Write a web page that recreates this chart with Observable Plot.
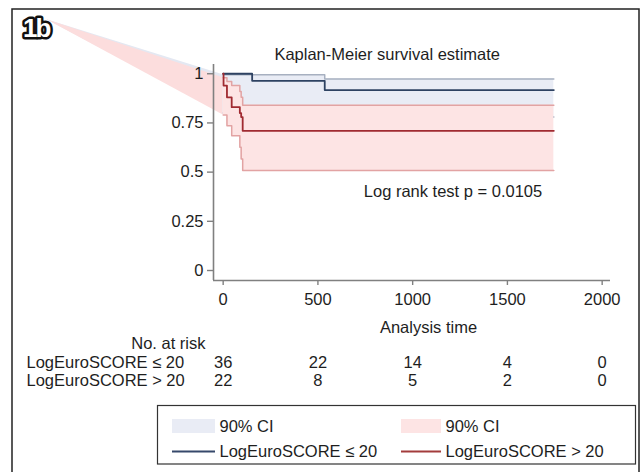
<!DOCTYPE html>
<html><head><meta charset="utf-8">
<script src="https://cdn.jsdelivr.net/npm/d3@7"></script>
<script src="https://cdn.jsdelivr.net/npm/@observablehq/plot@0.6"></script>
<style>html,body{margin:0;padding:0;background:#fff;overflow:hidden}</style>
</head><body><div id="chart"></div>
<script>
// ---- data ----
const groupLabels = ["LogEuroSCORE ≤ 20", "LogEuroSCORE > 20"];
// LogEuroSCORE <= 20
const lowTime = [0, 153, 536, 1745];
const lowKM   = [1, 0.964, 0.917, 0.917];
const lowHi   = [0.995, 0.995, 0.973, 0.973];
const lowLo   = [0.80, 0.80, 0.78, 0.78];
// LogEuroSCORE > 20
const highTime = [0, 2, 20, 45, 88, 95, 103, 1745];
const highKM   = [1, 0.94, 0.88, 0.83, 0.80, 0.78, 0.71, 0.71];
const highHi   = [0.98, 0.98, 0.96, 0.94, 0.91, 0.88, 0.84, 0.84];
const highLo   = [0.79, 0.79, 0.736, 0.685, 0.626, 0.567, 0.508, 0.508];
// stray band vertex drawn outside the plot region
const apexTime = -930;
const apexValue = 1.275;
// number at risk table
const riskTimes = [0, 500, 1000, 1500, 2000];
const riskLow  = [36, 22, 14, 4, 0];
const riskHigh = [22, 8, 5, 2, 0];
const xTicks = [0, 500, 1000, 1500, 2000];
const yTicks = [0, 0.25, 0.5, 0.75, 1];
const xDomain = [-51, 2044];
const yDomain = [-0.0508, 1.047];
const titleText = "Kaplan-Meier survival estimate";
const testText = "Log rank test p = 0.0105";
const xLabel = "Analysis time";
const riskTitle = "No. at risk";
const ciLabel = "90% CI";

// ---- build tables ----
const lowData = lowTime.map((t, i) => ({t, km: lowKM[i], hi: lowHi[i], lo: lowLo[i]}));
const highData = highTime.map((t, i) => ({t, km: highKM[i], hi: highHi[i], lo: highLo[i]}));
const wedgeLow = [{t: apexTime, hi: apexValue, lo: apexValue}, lowData[0]];
const wedgeHigh = [{t: apexTime, hi: apexValue, lo: apexValue}, highData[0]];
const riskRowLow = riskTimes.map((t, i) => ({t, n: riskLow[i]}));
const riskRowHigh = riskTimes.map((t, i) => ({t, n: riskHigh[i]}));

const FONT = "'Liberation Sans', Arial, Helvetica, sans-serif";
const FS = 16.5;
const C = {
  blueFill: "#e9ecf5", pinkFill: "#fde4e4",
  blueWedge: "#e4e8f2", pinkWedge: "#fcdddd",
  blueCI: "#a7b0c0", redCI: "#e2a3a3",
  blueKM: "#2e4262", redKM: "#a02a31",
  axis: "#808080", text: "#1e1e1e"
};
const T = {fontSize: FS, fill: C.text, lineAnchor: "middle"};

const W = 641, H = 472;
const plot = Plot.plot({
  width: W, height: H,
  marginLeft: 213, marginRight: 31, marginTop: 64, marginBottom: 192,
  x: {domain: xDomain},
  y: {domain: yDomain},
  style: {fontFamily: FONT, fontSize: FS + "px", background: "white", color: C.text, overflow: "visible"},
  marks: [
    Plot.areaY(wedgeLow, {x: "t", y1: "lo", y2: "hi", fill: C.blueWedge, curve: "linear"}),
    Plot.areaY(wedgeHigh, {x: "t", y1: "lo", y2: "hi", fill: C.pinkWedge, curve: "linear"}),
    Plot.areaY(lowData, {x: "t", y1: "lo", y2: "hi", fill: C.blueFill, curve: "step-after"}),
    Plot.lineY(lowData, {x: "t", y: "hi", stroke: C.blueCI, strokeWidth: 1.5, curve: "step-after"}),
    Plot.lineY(lowData, {x: "t", y: "lo", stroke: C.blueCI, strokeWidth: 1.5, curve: "step-after"}),
    Plot.areaY(highData, {x: "t", y1: "lo", y2: "hi", fill: C.pinkFill, curve: "step-after"}),
    Plot.lineY(highData, {x: "t", y: "hi", stroke: C.redCI, strokeWidth: 1.5, curve: "step-after"}),
    Plot.lineY(highData, {x: "t", y: "lo", stroke: C.redCI, strokeWidth: 1.5, curve: "step-after"}),
    Plot.lineY(lowData, {x: "t", y: "km", stroke: C.blueKM, strokeWidth: 1.8, curve: "step-after"}),
    Plot.lineY(highData, {x: "t", y: "km", stroke: C.redKM, strokeWidth: 1.8, curve: "step-after"}),
    Plot.ruleX([xDomain[0]], {y1: yDomain[0], y2: yDomain[1], stroke: C.axis, strokeWidth: 1.6}),
    Plot.ruleY([yDomain[0]], {x1: xDomain[0], x2: xDomain[1], stroke: C.axis, strokeWidth: 1.6}),
    Plot.axisY(yTicks, {anchor: "left", tickSize: 6, tickPadding: 4, tickFormat: d => String(d),
      stroke: C.axis, strokeWidth: 1.4, fill: C.text, label: null, fontSize: FS}),
    Plot.axisX(xTicks, {anchor: "bottom", tickSize: 5, tickPadding: 8, tickFormat: d => String(d),
      stroke: C.axis, strokeWidth: 1.4, fill: C.text, label: null, fontSize: FS}),
    Plot.text([titleText], {...T, frameAnchor: "top-left", dx: 173.7, dy: -9.3, textAnchor: "middle"}),
    Plot.text([testText], {...T, frameAnchor: "top-left", dx: 150.3, dy: 127.7, textAnchor: "start"}),
    Plot.text([xLabel], {...T, frameAnchor: "bottom-left", dx: 215, dy: 47.7, textAnchor: "middle"}),
    Plot.text([riskTitle], {...T, frameAnchor: "bottom-left", dx: -8, dy: 63.7, textAnchor: "end"}),
    Plot.text([groupLabels[0]], {...T, frameAnchor: "bottom-left", dx: -187, dy: 82.7, textAnchor: "start"}),
    Plot.text([groupLabels[1]], {...T, frameAnchor: "bottom-left", dx: -187, dy: 100.7, textAnchor: "start"}),
    Plot.text(riskRowLow, {...T, x: "t", text: "n", frameAnchor: "bottom", dy: 82.7}),
    Plot.text(riskRowHigh, {...T, x: "t", text: "n", frameAnchor: "bottom", dy: 100.7})
  ]
});

// ---- decorations: figure border, panel label, legend ----
const svg = d3.select(plot);
svg.append("rect").attr("x", 12).attr("y", 9).attr("width", 627).attr("height", 480)
  .attr("fill", "none").attr("stroke", "#222").attr("stroke-width", 1.5);
svg.append("text").attr("x", 23).attr("y", 36.5).text("1b")
  .attr("text-anchor", "start")
  .attr("font-family", FONT).attr("font-weight", "bold").attr("font-size", 26)
  .attr("letter-spacing", -2).attr("fill", "white").attr("stroke", "#111")
  .attr("stroke-width", 5).attr("stroke-linejoin", "round").attr("paint-order", "stroke");

const lg = svg.append("g").attr("font-family", FONT).attr("font-size", FS)
  .attr("fill", C.text).attr("text-anchor", "start");
lg.append("rect").attr("x", 157.5).attr("y", 405.5).attr("width", 478).attr("height", 58.5)
  .attr("fill", "white").attr("stroke", "#333").attr("stroke-width", 1.2);
const cols = [
  {x: 172, w: 43, fill: C.blueFill, line: "#36486b", label: groupLabels[0]},
  {x: 401, w: 40, fill: C.pinkFill, line: "#a33c3c", label: groupLabels[1]}
];
cols.forEach(c => {
  lg.append("rect").attr("x", c.x).attr("y", 419).attr("width", c.w).attr("height", 14).attr("fill", c.fill);
  lg.append("line").attr("x1", c.x).attr("x2", c.x + c.w).attr("y1", 451.5).attr("y2", 451.5)
    .attr("stroke", c.line).attr("stroke-width", 1.8);
  lg.append("text").attr("x", c.x + c.w + 4.5).attr("y", 431.5).attr("text-anchor", "start").text(ciLabel);
  lg.append("text").attr("x", c.x + c.w + 4.5).attr("y", 456.5).attr("text-anchor", "start").text(c.label);
});

document.getElementById("chart").appendChild(plot);
</script>
</body></html>
